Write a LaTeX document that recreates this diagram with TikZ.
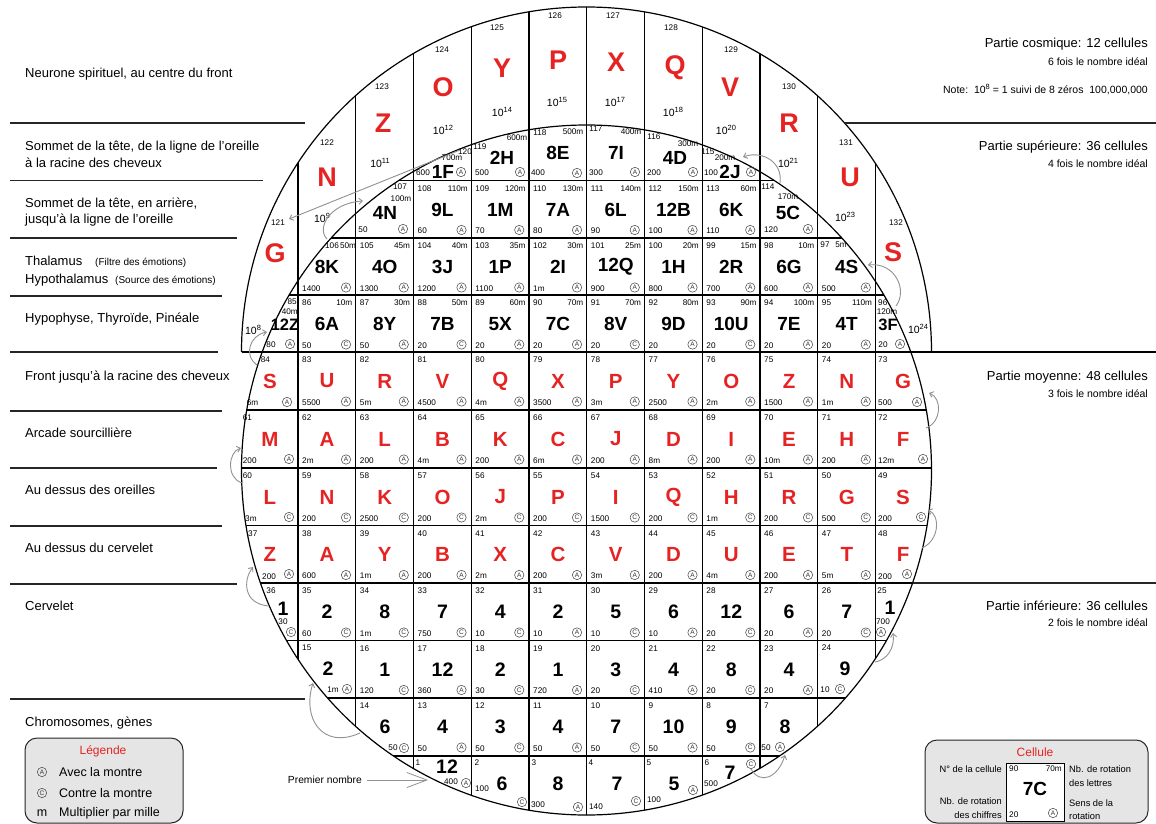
\documentclass[tikz,border=0pt]{standalone}
\usepackage{fontspec}
\setmainfont{Liberation Sans}
\usetikzlibrary{arrows.meta}
\definecolor{myred}{RGB}{229,35,35}
\definecolor{agray}{RGB}{145,145,145}
\newcommand\myfs[1]{\fontsize{#1}{#1}\selectfont}
\newcommand\tenp[1]{10\raisebox{0.42em}{\myfs{7.5}#1}}
\tikzset{
 numt/.style={inner sep=0pt, font=\myfs{8.2}},
 lab/.style={inner sep=0pt, font=\myfs{19}\bfseries},
 slab/.style={inner sep=0pt, font=\myfs{16.5}\bfseries},
 rlab/.style={inner sep=0pt, font=\myfs{20.5}\bfseries, text=myred},
 llab/.style={inner sep=0pt, font=\myfs{19.5}\bfseries},
 clab/.style={inner sep=0pt, font=\myfs{27}\bfseries, text=myred},
 expt/.style={inner sep=0pt, font=\myfs{10.5}},
 dirc/.style={circle, draw=black!70, line width=0.55pt, inner sep=0pt, minimum size=9.4pt, font=\myfs{6.5}, text=black!80},
 gridl/.style={line width=1.2pt, black},
 sepl/.style={line width=1.1pt, black!85},
 garrow/.style={draw=agray, line width=0.9pt, -{Straight Barb[length=3.5pt,width=6pt]}},
 sidel/.style={inner sep=0pt, anchor=base west, font=\myfs{13}},
 sides/.style={inner sep=0pt, anchor=base west, font=\myfs{10}},
 rightl/.style={inner sep=0pt, anchor=base east, font=\myfs{13}},
 rights/.style={inner sep=0pt, anchor=base east, font=\myfs{10.5}},
 boxl/.style={draw=black!85, fill=black!10, line width=1pt, rounded corners=12pt},
 smallt/.style={inner sep=0pt, font=\myfs{9.3}},
}
\newcommand\cellN[8]{%
 \node[numt,anchor=west] (n#3) at (#1+4,#2+8) {#3};
 \node[numt,anchor=east] (t#3) at (#1+54.5,#2+8) {#4};
 \node[#8] (l#3) at (#1+29,#2+29) {#5};
 \node[numt,anchor=west] (b#3) at (#1+4,#2+50.5) {#6};
 \node[dirc] (d#3) at (#1+48,#2+49.5) {#7};
}
\newcommand\cosmo[9]{%
 \node[numt] (cn#1) at (#2,#3) {#1};
 \node[clab] (cl#1) at (#5,#6) {#4};
 \node[expt] (ce#1) at (#8,#9) {\tenp{#7}};
}
\begin{document}
\begin{tikzpicture}[x=1pt,y=-1pt]
\fill[white] (0,0) rectangle (1156,824);
\useasboundingbox (0,0) rectangle (1156,824);

% ---------- grid ----------
\begin{scope}
\clip (586.5,470) circle[radius=345];
\foreach \x in {298,355.75,413.5,471.25,529,586.75,644.5,702.25,760,817.75,875.5}
  \draw[gridl] (\x,0) -- (\x,824);
\foreach \y in {180.5,238,295,352,410,468,525.5,583,640.5,698,756}
  \draw[gridl] (0,\y) -- (1156,\y);
\end{scope}
\begin{scope}
\clip (241.5,352) arc[start angle=180,end angle=360,radius=345] -- cycle;
\foreach \x in {298,355.75,413.5,471.25,529,586.75,644.5,702.25,760,817.75,875.5}
  \draw[gridl] (\x,0) -- (\x,352);
\end{scope}
\draw[gridl] (586.5,470) circle[radius=345];
\draw[gridl] (241.5,352) arc[start angle=180,end angle=360,radius=345];
\draw[gridl] (241.5,352) -- (1156,352);

% ---------- separators ----------
\draw[sepl] (10,123) -- (305,123);
\draw[sepl] (10,180.5) -- (263,180.5);
\draw[sepl] (10,238) -- (237,238);
\draw[sepl] (10,296) -- (222,296);
\draw[sepl] (10,352) -- (218,352);
\draw[sepl] (10,411) -- (222,411);
\draw[sepl] (10,468) -- (217,468);
\draw[sepl] (10,526) -- (222,526);
\draw[sepl] (10,584) -- (237,584);
\draw[sepl] (10,699) -- (305,699);
\draw[sepl] (845,123) -- (1156,123);
\draw[sepl] (913,583) -- (1156,583);

% ---------- left labels ----------
\node[sidel] (s1) at (25,78) {Neurone spirituel, au centre du front};
\node[sidel] (s2) at (25,150) {Sommet de la tête, de la ligne de l'oreille};
\node[sidel] (s2b) at (25,167) {à la racine des cheveux};
\node[sidel] (s3) at (25,207) {Sommet de la tête, en arrière,};
\node[sidel] (s3b) at (25,223) {jusqu'à la ligne de l'oreille};
\node[sidel] (s4) at (25,265) {Thalamus};
\node[sides] (s4p) at (95,265) {(Filtre des émotions)};
\node[sidel] (s4b) at (25,283) {Hypothalamus};
\node[sides] (s4q) at (115,283) {(Source des émotions)};
\node[sidel] (s5) at (25,322) {Hypophyse, Thyroïde, Pinéale};
\node[sidel] (s6) at (25,380) {Front jusqu'à la racine des cheveux};
\node[sidel] (s7) at (25,437) {Arcade sourcillière};
\node[sidel] (s8) at (25,494) {Au dessus des oreilles};
\node[sidel] (s9) at (25,552) {Au dessus du cervelet};
\node[sidel] (s10) at (25,610) {Cervelet};
\node[sidel] (s11) at (25,726) {Chromosomes, gènes};

% ---------- right labels ----------
\node[rightl] (r1) at (1148,48) {Partie cosmique: 12 cellules};
\node[rights] (r1b) at (1148,66) {6 fois le nombre idéal};
\node[rights] (r1c) at (1148,94) {Note:\ \ \tenp{8} = 1 suivi de 8 zéros\ \ 100,000,000};
\node[rightl] (r2) at (1148,150) {Partie supérieure: 36 cellules};
\node[rights] (r2b) at (1148,167) {4 fois le nombre idéal};
\node[rightl] (r3) at (1148,380) {Partie moyenne: 48 cellules};
\node[rights] (r3b) at (1148,397) {3 fois le nombre idéal};
\node[rightl] (r4) at (1148,610) {Partie inférieure: 36 cellules};
\node[rights] (r4b) at (1148,626) {2 fois le nombre idéal};

% ---------- cosmic cells ----------
\cosmo{121}{278}{223}{G}{275}{253}{8}{253}{330}
\cosmo{122}{327}{143}{N}{327}{177}{9}{322}{218}
\cosmo{123}{382}{87}{Z}{383}{123}{11}{380}{163}
\cosmo{124}{442}{50}{O}{443}{87}{12}{443}{130}
\cosmo{125}{497}{28}{Y}{502}{68}{14}{502}{112}
\cosmo{126}{555}{16}{P}{558}{60}{15}{557}{102}
\cosmo{127}{613}{16}{X}{616}{62}{17}{615}{102}
\cosmo{128}{671}{28}{Q}{675}{68}{18}{673}{112}
\cosmo{129}{731}{50}{V}{730}{87}{20}{726}{130}
\cosmo{130}{789}{87}{R}{789}{123}{21}{788}{163}
\cosmo{131}{846}{143}{U}{850}{177}{23}{845}{217}
\cosmo{132}{896}{223}{S}{893}{252}{24}{918}{329}

% ---------- upper part: top row ----------
\node[numt] (n120) at (465,152) {120};
\node[numt] (t120) at (452,158) {700m};
\node[lab] (l120) at (443,172) {1F};
\node[numt] (b120) at (423,173) {600};
\node[dirc] (d120) at (461,172) {A};
\node[numt] (n119) at (480,147) {119};
\node[numt] (t119) at (517,138) {600m};
\node[lab] (l119) at (502,158) {2H};
\node[numt] (b119) at (482,173) {500};
\node[dirc] (d119) at (520,172) {A};
\node[numt] (n118) at (540,133) {118};
\node[numt] (t118) at (573,132) {500m};
\node[lab] (l118) at (558,153) {8E};
\node[numt] (b118) at (538,173) {400};
\node[dirc] (d118) at (577,173) {A};
\node[numt] (n117) at (596,129) {117};
\node[numt] (t117) at (631,132) {400m};
\node[lab] (l117) at (616,153) {7I};
\node[numt] (b117) at (596,173) {300};
\node[dirc] (d117) at (635,172) {A};
\node[numt] (n116) at (654,137) {116};
\node[numt] (t116) at (688,144) {300m};
\node[lab] (l116) at (675,158) {4D};
\node[numt] (b116) at (654,173) {200};
\node[dirc] (d116) at (693,172) {A};
\node[numt] (n115) at (708,152) {115};
\node[numt] (t115) at (725,158) {200m};
\node[lab] (l115) at (730,172) {2J};
\node[numt] (b115) at (711,173) {100};
\node[dirc] (d115) at (751,172) {A};

% ---------- row 2 ----------
\node[numt] (n107) at (400,187) {107};
\node[numt] (t107) at (401,199) {100m};
\node[lab] (l107) at (385,213) {4N};
\node[numt] (b107) at (363,230) {50};
\node[dirc] (d107) at (403,229) {A};
\cellN{413.5}{180.5}{108}{110m}{9L}{60}{A}{lab}
\cellN{471.25}{180.5}{109}{120m}{1M}{70}{A}{lab}
\cellN{529}{180.5}{110}{130m}{7A}{80}{A}{lab}
\cellN{586.75}{180.5}{111}{140m}{6L}{90}{A}{lab}
\cellN{644.5}{180.5}{112}{150m}{12B}{100}{A}{lab}
\cellN{702.25}{180.5}{113}{60m}{6K}{110}{A}{lab}
\node[numt] (n114) at (768,187) {114};
\node[numt] (t114) at (788,197) {170m};
\node[lab] (l114) at (788,213) {5C};
\node[numt] (b114) at (771,230) {120};
\node[dirc] (d114) at (808,229) {A};

% ---------- row 3 ----------
\node[numt] (n106) at (332,246) {106};
\node[numt] (t106) at (348,246) {50m};
\node[lab] (l106) at (327,267) {8K};
\node[numt,anchor=west] (b106) at (302,288.5) {1400};
\node[dirc] (d106) at (346,287.5) {A};
\cellN{355.75}{238}{105}{45m}{4O}{1300}{A}{lab}
\cellN{413.5}{238}{104}{40m}{3J}{1200}{A}{lab}
\cellN{471.25}{238}{103}{35m}{1P}{1100}{A}{lab}
\cellN{529}{238}{102}{30m}{2I}{1m}{A}{lab}
\cellN{586.75}{238}{101}{25m}{12Q}{900}{A}{lab}
\cellN{644.5}{238}{100}{20m}{1H}{800}{A}{lab}
\cellN{702.25}{238}{99}{15m}{2R}{700}{A}{lab}
\cellN{760}{238}{98}{10m}{6G}{600}{A}{lab}
\node[numt] (n97) at (825,245) {97};
\node[numt] (t97) at (841,245) {5m};
\node[lab] (l97) at (846.75,267) {4S};
\node[numt,anchor=west] (b97) at (821.75,288.5) {500};
\node[dirc] (d97) at (865.75,287.5) {A};

% ---------- row 4 ----------
\node[numt,anchor=east] (n85) at (297,302) {85};
\node[numt,anchor=east] (t85) at (298,312) {40m};
\node[slab] (l85) at (285,325) {12Z};
\node[numt] (b85) at (271,345) {80};
\node[dirc] (d85) at (290,344) {A};
\cellN{298}{295}{86}{10m}{6A}{50}{C}{lab}
\cellN{355.75}{295}{87}{30m}{8Y}{50}{A}{lab}
\cellN{413.5}{295}{88}{50m}{7B}{20}{C}{lab}
\cellN{471.25}{295}{89}{60m}{5X}{20}{A}{lab}
\cellN{529}{295}{90}{70m}{7C}{20}{A}{lab}
\cellN{586.75}{295}{91}{70m}{8V}{20}{C}{lab}
\cellN{644.5}{295}{92}{80m}{9D}{20}{A}{lab}
\cellN{702.25}{295}{93}{90m}{10U}{20}{C}{lab}
\cellN{760}{295}{94}{100m}{7E}{20}{A}{lab}
\cellN{817.75}{295}{95}{110m}{4T}{20}{A}{lab}
\node[numt,anchor=west] (n96) at (878,303) {96};
\node[numt] (t96) at (887,312) {120m};
\node[slab] (l96) at (888,325) {3F};
\node[numt] (b96) at (883,345) {20};
\node[dirc] (d96) at (900,344) {A};

% ---------- middle part ----------
% row 5
\node[numt,anchor=west] (n84) at (260.7,360) {84};
\node[rlab] (l84) at (270,381) {S};
\node[numt,anchor=west] (b84) at (246.7,403) {6m};
\node[dirc] (d84) at (287,402) {A};
\cellN{298}{352}{83}{}{U}{5500}{A}{rlab}
\cellN{355.75}{352}{82}{}{R}{5m}{A}{rlab}
\cellN{413.5}{352}{81}{}{V}{4500}{A}{rlab}
\cellN{471.25}{352}{80}{}{Q}{4m}{A}{rlab}
\cellN{529}{352}{79}{}{X}{3500}{A}{rlab}
\cellN{586.75}{352}{78}{}{P}{3m}{A}{rlab}
\cellN{644.5}{352}{77}{}{Y}{2500}{A}{rlab}
\cellN{702.25}{352}{76}{}{O}{2m}{A}{rlab}
\cellN{760}{352}{75}{}{Z}{1500}{A}{rlab}
\cellN{817.75}{352}{74}{}{N}{1m}{A}{rlab}
\node[numt,anchor=west] (n73) at (878,360) {73};
\node[rlab] (l73) at (903,381) {G};
\node[numt,anchor=west] (b73) at (878,403) {500};
\node[dirc] (d73) at (917,402) {A};
% row 6
\node[numt,anchor=west] (n61) at (242.7,418) {61};
\node[rlab] (l61) at (270,439) {M};
\node[numt,anchor=west] (b61) at (242.7,461) {200};
\node[dirc] (d61) at (289,459) {A};
\cellN{298}{410}{62}{}{A}{2m}{A}{rlab}
\cellN{355.75}{410}{63}{}{L}{200}{A}{rlab}
\cellN{413.5}{410}{64}{}{B}{4m}{A}{rlab}
\cellN{471.25}{410}{65}{}{K}{200}{A}{rlab}
\cellN{529}{410}{66}{}{C}{6m}{A}{rlab}
\cellN{586.75}{410}{67}{}{J}{200}{A}{rlab}
\cellN{644.5}{410}{68}{}{D}{8m}{A}{rlab}
\cellN{702.25}{410}{69}{}{I}{200}{A}{rlab}
\cellN{760}{410}{70}{}{E}{10m}{A}{rlab}
\cellN{817.75}{410}{71}{}{H}{200}{A}{rlab}
\node[numt,anchor=west] (n72) at (878,418) {72};
\node[rlab] (l72) at (903,439) {F};
\node[numt,anchor=west] (b72) at (878,461) {12m};
\node[dirc] (d72) at (923,459) {A};
% row 7
\node[numt,anchor=west] (n60) at (242.7,476) {60};
\node[rlab] (l60) at (270,497) {L};
\node[numt,anchor=west] (b60) at (245,519) {3m};
\node[dirc] (d60) at (289,517) {C};
\cellN{298}{468}{59}{}{N}{200}{C}{rlab}
\cellN{355.75}{468}{58}{}{K}{2500}{C}{rlab}
\cellN{413.5}{468}{57}{}{O}{200}{C}{rlab}
\cellN{471.25}{468}{56}{}{J}{2m}{C}{rlab}
\cellN{529}{468}{55}{}{P}{200}{C}{rlab}
\cellN{586.75}{468}{54}{}{I}{1500}{C}{rlab}
\cellN{644.5}{468}{53}{}{Q}{200}{C}{rlab}
\cellN{702.25}{468}{52}{}{H}{1m}{C}{rlab}
\cellN{760}{468}{51}{}{R}{200}{C}{rlab}
\cellN{817.75}{468}{50}{}{G}{500}{C}{rlab}
\node[numt,anchor=west] (n49) at (878,476) {49};
\node[rlab] (l49) at (903,497) {S};
\node[numt,anchor=west] (b49) at (878,519) {200};
\node[dirc] (d49) at (921,517) {C};
% row 8
\node[numt,anchor=west] (n37) at (248,534) {37};
\node[rlab] (l37) at (270,554) {Z};
\node[numt,anchor=west] (b37) at (262,577) {200};
\node[dirc] (d37) at (289,574) {A};
\cellN{298}{525.5}{38}{}{A}{600}{A}{rlab}
\cellN{355.75}{525.5}{39}{}{Y}{1m}{A}{rlab}
\cellN{413.5}{525.5}{40}{}{B}{200}{A}{rlab}
\cellN{471.25}{525.5}{41}{}{X}{2m}{A}{rlab}
\cellN{529}{525.5}{42}{}{C}{200}{A}{rlab}
\cellN{586.75}{525.5}{43}{}{V}{3m}{A}{rlab}
\cellN{644.5}{525.5}{44}{}{D}{200}{A}{rlab}
\cellN{702.25}{525.5}{45}{}{U}{4m}{A}{rlab}
\cellN{760}{525.5}{46}{}{E}{200}{A}{rlab}
\cellN{817.75}{525.5}{47}{}{T}{5m}{A}{rlab}
\node[numt,anchor=west] (n48) at (878,534) {48};
\node[rlab] (l48) at (903,554) {F};
\node[numt,anchor=west] (b48) at (878,577) {200};
\node[dirc] (d48) at (907,574) {A};

% ---------- lower part ----------
% row 9
\node[numt] (n36) at (271,591) {36};
\node[llab] (l36) at (283,609) {1};
\node[numt] (b36) at (283,622) {30};
\node[dirc] (d36) at (291,632) {C};
\cellN{298}{583}{35}{}{2}{60}{C}{llab}
\cellN{355.75}{583}{34}{}{8}{1m}{C}{llab}
\cellN{413.5}{583}{33}{}{7}{750}{C}{llab}
\cellN{471.25}{583}{32}{}{4}{10}{C}{llab}
\cellN{529}{583}{31}{}{2}{10}{A}{llab}
\cellN{586.75}{583}{30}{}{5}{10}{C}{llab}
\cellN{644.5}{583}{29}{}{6}{10}{A}{llab}
\cellN{702.25}{583}{28}{}{12}{20}{C}{llab}
\cellN{760}{583}{27}{}{6}{20}{A}{llab}
\cellN{817.75}{583}{26}{}{7}{20}{C}{llab}
\node[numt] (n25) at (882,591) {25};
\node[llab] (l25) at (890,608) {1};
\node[numt] (b25) at (883,622) {700};
\node[dirc] (d25) at (881,632) {A};
% row 10
\node[numt,anchor=west] (n15) at (302,648) {15};
\node[llab] (l15) at (328,669) {2};
\node[numt] (b15) at (333,690) {1m};
\node[dirc] (d15) at (347,689) {A};
\cellN{355.75}{640.5}{16}{}{1}{120}{C}{llab}
\cellN{413.5}{640.5}{17}{}{12}{360}{A}{llab}
\cellN{471.25}{640.5}{18}{}{2}{30}{C}{llab}
\cellN{529}{640.5}{19}{}{1}{720}{A}{llab}
\cellN{586.75}{640.5}{20}{}{3}{20}{C}{llab}
\cellN{644.5}{640.5}{21}{}{4}{410}{A}{llab}
\cellN{702.25}{640.5}{22}{}{8}{20}{C}{llab}
\cellN{760}{640.5}{23}{}{4}{20}{A}{llab}
\node[numt,anchor=west] (n24) at (821.75,648) {24};
\node[llab] (l24) at (845,669) {9};
\node[numt] (b24) at (825,690) {10};
\node[dirc] (d24) at (840,689) {C};
% row 11
\node[numt,anchor=west] (n14) at (359.75,706) {14};
\node[llab] (l14) at (385,727) {6};
\node[numt] (b14) at (393,748) {50};
\node[dirc] (d14) at (404,748) {C};
\cellN{413.5}{698}{13}{}{4}{50}{A}{llab}
\cellN{471.25}{698}{12}{}{3}{50}{C}{llab}
\cellN{529}{698}{11}{}{4}{50}{A}{llab}
\cellN{586.75}{698}{10}{}{7}{50}{C}{llab}
\cellN{644.5}{698}{9}{}{10}{50}{A}{llab}
\cellN{702.25}{698}{8}{}{9}{50}{C}{llab}
\node[numt,anchor=west] (n7) at (764,706) {7};
\node[llab] (l7) at (785,727) {8};
\node[numt] (b7) at (766,748) {50};
\node[dirc] (d7) at (780,747) {A};
% row 12
\node[numt] (n1) at (418,763) {1};
\node[llab] (l1) at (447,766.5) {12};
\node[numt] (b1) at (451,781.5) {400};
\node[dirc] (d1) at (466,783) {A};
\node[numt] (n2) at (477,763) {2};
\node[llab] (l2) at (502,784) {6};
\node[numt] (b2) at (482,789) {100};
\node[dirc] (d2) at (522,802) {C};
\node[numt] (n3) at (534,763) {3};
\node[llab] (l3) at (558,784) {8};
\node[numt] (b3) at (538,805) {300};
\node[dirc] (d3) at (578,807) {A};
\node[numt] (n4) at (591,763) {4};
\node[llab] (l4) at (617,784) {7};
\node[numt] (b4) at (596,807) {140};
\node[dirc] (d4) at (636,801) {C};
\node[numt] (n5) at (649,763) {5};
\node[llab] (l5) at (674,784) {5};
\node[numt] (b5) at (654,800) {100};
\node[dirc] (d5) at (693,790) {A};
\node[numt] (n6) at (707,763) {6};
\node[llab] (l6) at (730,773) {7};
\node[numt] (b6) at (711,784) {500};
\node[dirc] (d6) at (751,764) {C};

% ---------- gray sequence arrows ----------
\coordinate (a1s) at (327,239); \coordinate (a1e) at (363,201);
\draw[garrow] (a1s) .. controls (316,228) and (330,203) .. (a1e);
\coordinate (a2s) at (780,183); \coordinate (a2e) at (743,157);
\draw[garrow] (a2s) .. controls (783,162) and (762,150) .. (a2e);
\coordinate (a3s) at (896,306); \coordinate (a3e) at (868,265);
\draw[garrow] (a3s) .. controls (908,290) and (895,262) .. (a3e);
\coordinate (a4s) at (257,365); \coordinate (a4e) at (267,332);
\draw[garrow] (a4s) .. controls (243,355) and (250,335) .. (a4e);
\coordinate (a5s) at (926,428); \coordinate (a5e) at (929,393);
\draw[garrow] (a5s) .. controls (942,422) and (942,398) .. (a5e);
\coordinate (a6s) at (242,483); \coordinate (a6e) at (241,448);
\draw[garrow] (a6s) .. controls (226,478) and (228,452) .. (a6e);
\coordinate (a7s) at (922,548); \coordinate (a7e) at (928,510);
\draw[garrow] (a7s) .. controls (940,540) and (940,515) .. (a7e);
\coordinate (a8s) at (269,606); \coordinate (a8e) at (253,567);
\draw[garrow] (a8s) .. controls (243,604) and (243,580) .. (a8e);
\coordinate (a9s) at (875,662); \coordinate (a9e) at (893,633);
\draw[garrow] (a9s) .. controls (887,660) and (895,648) .. (a9e);
\coordinate (a10s) at (360,733); \coordinate (a10e) at (313,683);
\draw[garrow] (a10s) .. controls (322,750) and (302,718) .. (a10e);
\coordinate (a11s) at (751,769); \coordinate (a11e) at (785,755);
\draw[garrow] (a11s) .. controls (760,785) and (778,778) .. (a11e);
\coordinate (a12s) at (460,150); \coordinate (a12e) at (289,219);
\draw[garrow] (a12s) -- (a12e);

% ---------- premier nombre ----------
\node[inner sep=0pt, anchor=base east, font=\myfs{10.3}] (pn) at (362,783) {Premier nombre};
\coordinate (pns) at (367,780); \coordinate (pne) at (428,780);
\draw[draw=agray, line width=0.8pt, -{Straight Barb[length=20pt,width=15pt]}] (pns) -- (pne);

% ---------- legend ----------
\draw[boxl] (25,738) rectangle (183,823);
\node[inner sep=0pt, font=\myfs{12}, text=myred] (lgt) at (103,751) {Légende};
\node[dirc] (lg1) at (42,772) {A};
\node[inner sep=0pt, anchor=base west, font=\myfs{12.5}] (lg1t) at (59,776.5) {Avec la montre};
\node[dirc] (lg2) at (42,793) {C};
\node[inner sep=0pt, anchor=base west, font=\myfs{12.5}] (lg2t) at (59,797.5) {Contre la montre};
\node[inner sep=0pt, anchor=base, font=\myfs{12.5}] (lg3) at (42,816.5) {m};
\node[inner sep=0pt, anchor=base west, font=\myfs{12.5}] (lg3t) at (59,816.5) {Multiplier par mille};

% ---------- cellule box ----------
\draw[boxl] (925,740) rectangle (1148,823);
\node[inner sep=0pt, font=\myfs{12}, text=myred] (cet) at (1035,752) {Cellule};
\draw[fill=white, draw=black, line width=1pt] (1006,763) rectangle (1064,821);
\node[numt,anchor=west] (cen) at (1009,769) {90};
\node[numt,anchor=east] (cet2) at (1062,769) {70m};
\node[lab] (cel) at (1035,789) {7C};
\node[numt,anchor=west] (ceb) at (1009,815) {20};
\node[dirc] (ced) at (1053,813) {A};
\node[smallt,anchor=east] (ce1) at (1002,769) {N° de la cellule};
\node[smallt,anchor=east] (ce2) at (1002,801) {Nb. de rotation};
\node[smallt,anchor=east] (ce3) at (1002,815) {des chiffres};
\node[smallt,anchor=west] (ce4) at (1069,769) {Nb. de rotation};
\node[smallt,anchor=west] (ce5) at (1069,783) {des lettres};
\node[smallt,anchor=west] (ce6) at (1069,803) {Sens de la};
\node[smallt,anchor=west] (ce7) at (1069,816) {rotation};
\end{tikzpicture}
\end{document}
